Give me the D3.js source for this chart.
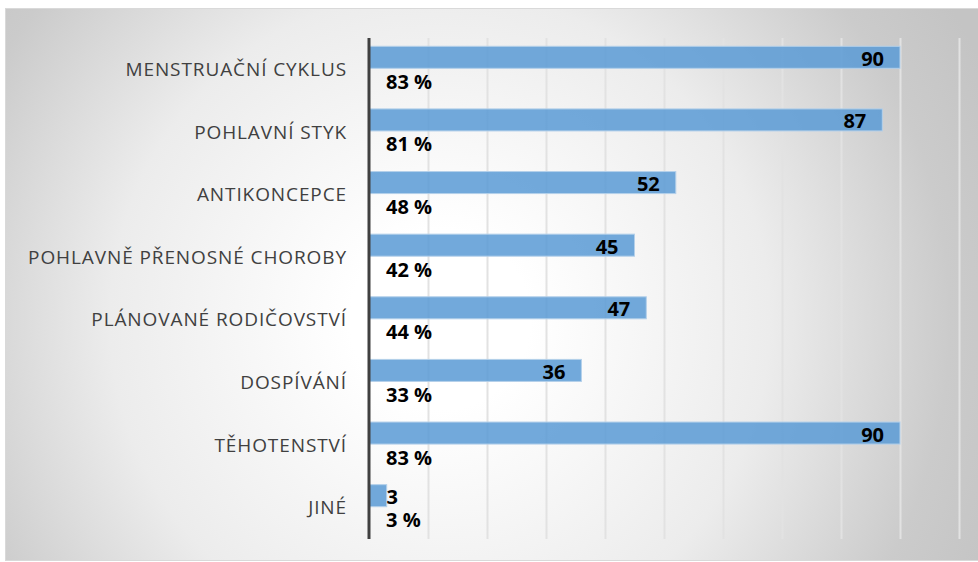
<!DOCTYPE html>
<meta charset="utf-8">
<style>
body { margin: 0; background: #fff; }
svg { display: block; }
.cat text { font: 19px "Open Sans", sans-serif; letter-spacing: 0.9px; fill: #404040; }
.val, .pct { font: bold 20px "Open Sans", sans-serif; fill: #000; }
</style>
<body>
<script src="https://d3js.org/d3.v7.min.js"></script>
<script>
var categories = ["MENSTRUAČNÍ CYKLUS", "POHLAVNÍ STYK", "ANTIKONCEPCE",
  "POHLAVNĚ PŘENOSNÉ CHOROBY", "PLÁNOVANÉ RODIČOVSTVÍ", "DOSPÍVÁNÍ",
  "TĚHOTENSTVÍ", "JINÉ"];
var counts = [90, 87, 52, 45, 47, 36, 90, 3];
var percents = [83, 81, 48, 42, 44, 33, 83, 3];
var gridTicks = [10, 20, 30, 40, 50, 60, 70, 80, 90, 100];

var w = 978, h = 562,
    plotTop = 38, plotBottom = 539,
    plotLeft = 369, plotRight = 959;

var svg = d3.select("body").append("svg")
    .attr("width", w)
    .attr("height", h);

var defs = svg.append("defs");
var bg = defs.append("radialGradient")
    .attr("id", "bg")
    .attr("gradientUnits", "userSpaceOnUse")
    .attr("cx", 440).attr("cy", 320).attr("r", 600);
bg.append("stop").attr("offset", 0).attr("stop-color", "#ffffff");
bg.append("stop").attr("offset", 0.15).attr("stop-color", "#ffffff");
bg.append("stop").attr("offset", 0.55).attr("stop-color", "#ececec");
bg.append("stop").attr("offset", 0.85).attr("stop-color", "#cbcbcb");
bg.append("stop").attr("offset", 1).attr("stop-color", "#c4c4c4");

var gl = defs.append("linearGradient")
    .attr("id", "grid")
    .attr("gradientUnits", "userSpaceOnUse")
    .attr("x1", 0).attr("y1", plotTop).attr("x2", 0).attr("y2", plotBottom);
gl.append("stop").attr("offset", 0).attr("stop-color", "#e2e2e2");
gl.append("stop").attr("offset", 1).attr("stop-color", "#888888");

/* panel */
svg.append("rect")
    .attr("x", 5.5).attr("y", 8.5)
    .attr("width", 975).attr("height", 552)
    .attr("fill", "url(#bg)")
    .attr("stroke", "#d9d9d9");

var x = d3.scaleLinear().domain([0, 100]).range([plotLeft, plotRight]);
var y = d3.scaleBand().domain(categories).range([plotTop, plotBottom]);
var sub = d3.scaleBand().domain(["count", "pct"])
    .range([0, y.bandwidth()]).paddingOuter(0.36);

/* gridlines */
var grid = svg.append("g")
    .attr("transform", "translate(0," + plotBottom + ")")
    .call(d3.axisBottom(x).tickValues(gridTicks).tickSize(-(plotBottom - plotTop)).tickFormat(""));
grid.select(".domain").remove();
grid.selectAll(".tick line")
    .attr("stroke", "url(#grid)")
    .attr("stroke-width", 2);

/* bars */
var rows = svg.selectAll("g.row")
    .data(categories)
  .enter().append("g")
    .attr("class", "row")
    .attr("transform", function(d) { return "translate(0," + y(d) + ")"; });

rows.append("rect")
    .attr("x", x(0))
    .attr("y", sub("count"))
    .attr("width", function(d, i) { return x(counts[i]) - x(0); })
    .attr("height", sub.bandwidth() - 1)
    .attr("fill", "rgba(91,155,213,0.86)")
    .attr("stroke", "#b4d0ea")
    .attr("stroke-width", 1);

rows.append("text")
    .attr("class", "val")
    .attr("x", function(d, i) { return Math.max(x(counts[i]) - 16, x(0) + 29); })
    .attr("y", sub("count") + sub.bandwidth() / 2 + 1)
    .attr("dy", "0.35em")
    .attr("text-anchor", "end")
    .text(function(d, i) { return counts[i]; });

rows.append("text")
    .attr("class", "pct")
    .attr("x", x(0) + 17)
    .attr("y", sub("pct") + sub.bandwidth() / 2 + 1)
    .attr("dy", "0.35em")
    .text(function(d, i) { return percents[i] + " %"; });

/* category axis */
var cat = svg.append("g")
    .attr("class", "cat")
    .attr("transform", "translate(" + (plotLeft - 22) + ",0)")
    .call(d3.axisLeft(y).tickSize(0).tickPadding(0));
cat.select(".domain").remove();
cat.selectAll("text").attr("dy", "0.35em");

/* value axis line */
svg.append("line")
    .attr("x1", x(0)).attr("x2", x(0))
    .attr("y1", plotTop).attr("y2", plotBottom)
    .attr("stroke", "#404040")
    .attr("stroke-width", 3);
</script>
